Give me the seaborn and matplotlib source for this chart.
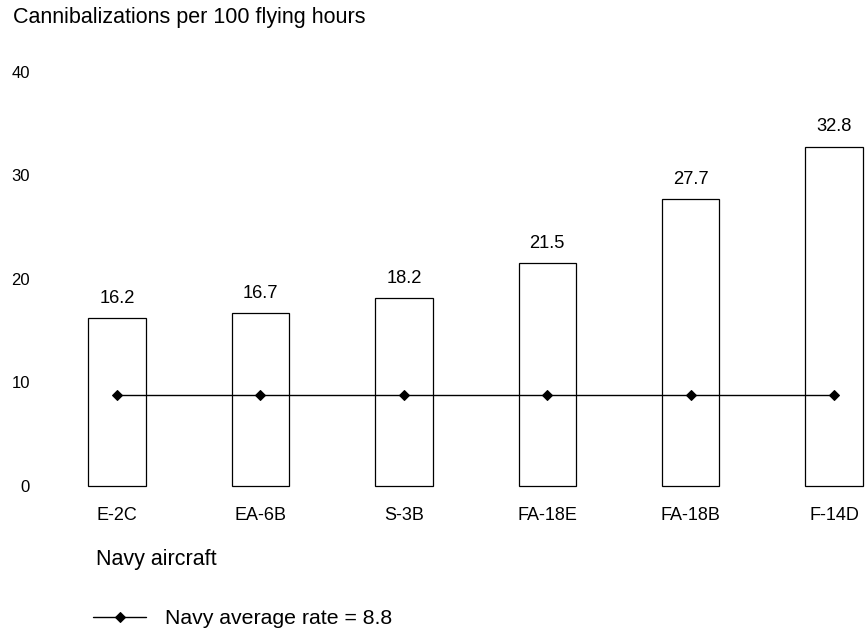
import matplotlib
matplotlib.use('Agg')
import matplotlib.pyplot as plt
import seaborn as sns
import pandas as pd

aircraft = ['E-2C', 'EA-6B', 'S-3B', 'FA-18E', 'FA-18B', 'F-14D']
rates = [16.2, 16.7, 18.2, 21.5, 27.7, 32.8]
navy_avg = [8.8] * len(aircraft)
y_ticks = [0, 10, 20, 30, 40]

sns.set_theme(style='white')
plt.rcParams['font.family'] = ['Liberation Sans', 'DejaVu Sans']
plt.rcParams['text.color'] = 'black'
plt.rcParams['xtick.color'] = 'black'
plt.rcParams['ytick.color'] = 'black'

df = pd.DataFrame({'aircraft': aircraft, 'rate': rates, 'avg': navy_avg})

fig = plt.figure(figsize=(8.68, 6.37), dpi=100)
ax = fig.add_axes([45.4 / 868, 1 - 486 / 637, (865.5 - 45.4) / 868, (486 - 72) / 637])

sns.barplot(data=df, x='aircraft', y='rate', ax=ax, width=0.4,
            color='white', edgecolor='black', linewidth=0.9)
for p in ax.patches:
    p.set_clip_on(False)
ax.bar_label(ax.containers[0], fmt='%.1f', padding=8, fontsize=13.2)

sns.lineplot(data=df, x='aircraft', y='avg', ax=ax, color='black', linewidth=1,
             marker='D', markersize=5.5, markeredgecolor='black',
             label='Navy average rate = 8.8')

ax.set_xlim(-0.5, 5.22)
ax.set_ylim(0, 40)
ax.set_yticks(y_ticks)
ax.set_xlabel('')
ax.set_ylabel('')
ax.tick_params(axis='both', length=0)
ax.tick_params(axis='x', pad=15, labelsize=13)
ax.tick_params(axis='y', pad=11, labelsize=12)
sns.despine(ax=ax, left=True, bottom=True)

fig.text(13 / 868, 1 - 17 / 637, 'Cannibalizations per 100 flying hours',
         fontsize=15.5, va='center', ha='left')
fig.text(96 / 868, 1 - 559 / 637, 'Navy aircraft', fontsize=15.5, va='center', ha='left')

ax.legend(loc='center left', bbox_to_anchor=(74 / 868, 1 - 619 / 637),
          bbox_transform=fig.transFigure, frameon=False, fontsize=15.3,
          handlelength=2.5, handletextpad=0.9)

fig.savefig('out.png', dpi=100)
